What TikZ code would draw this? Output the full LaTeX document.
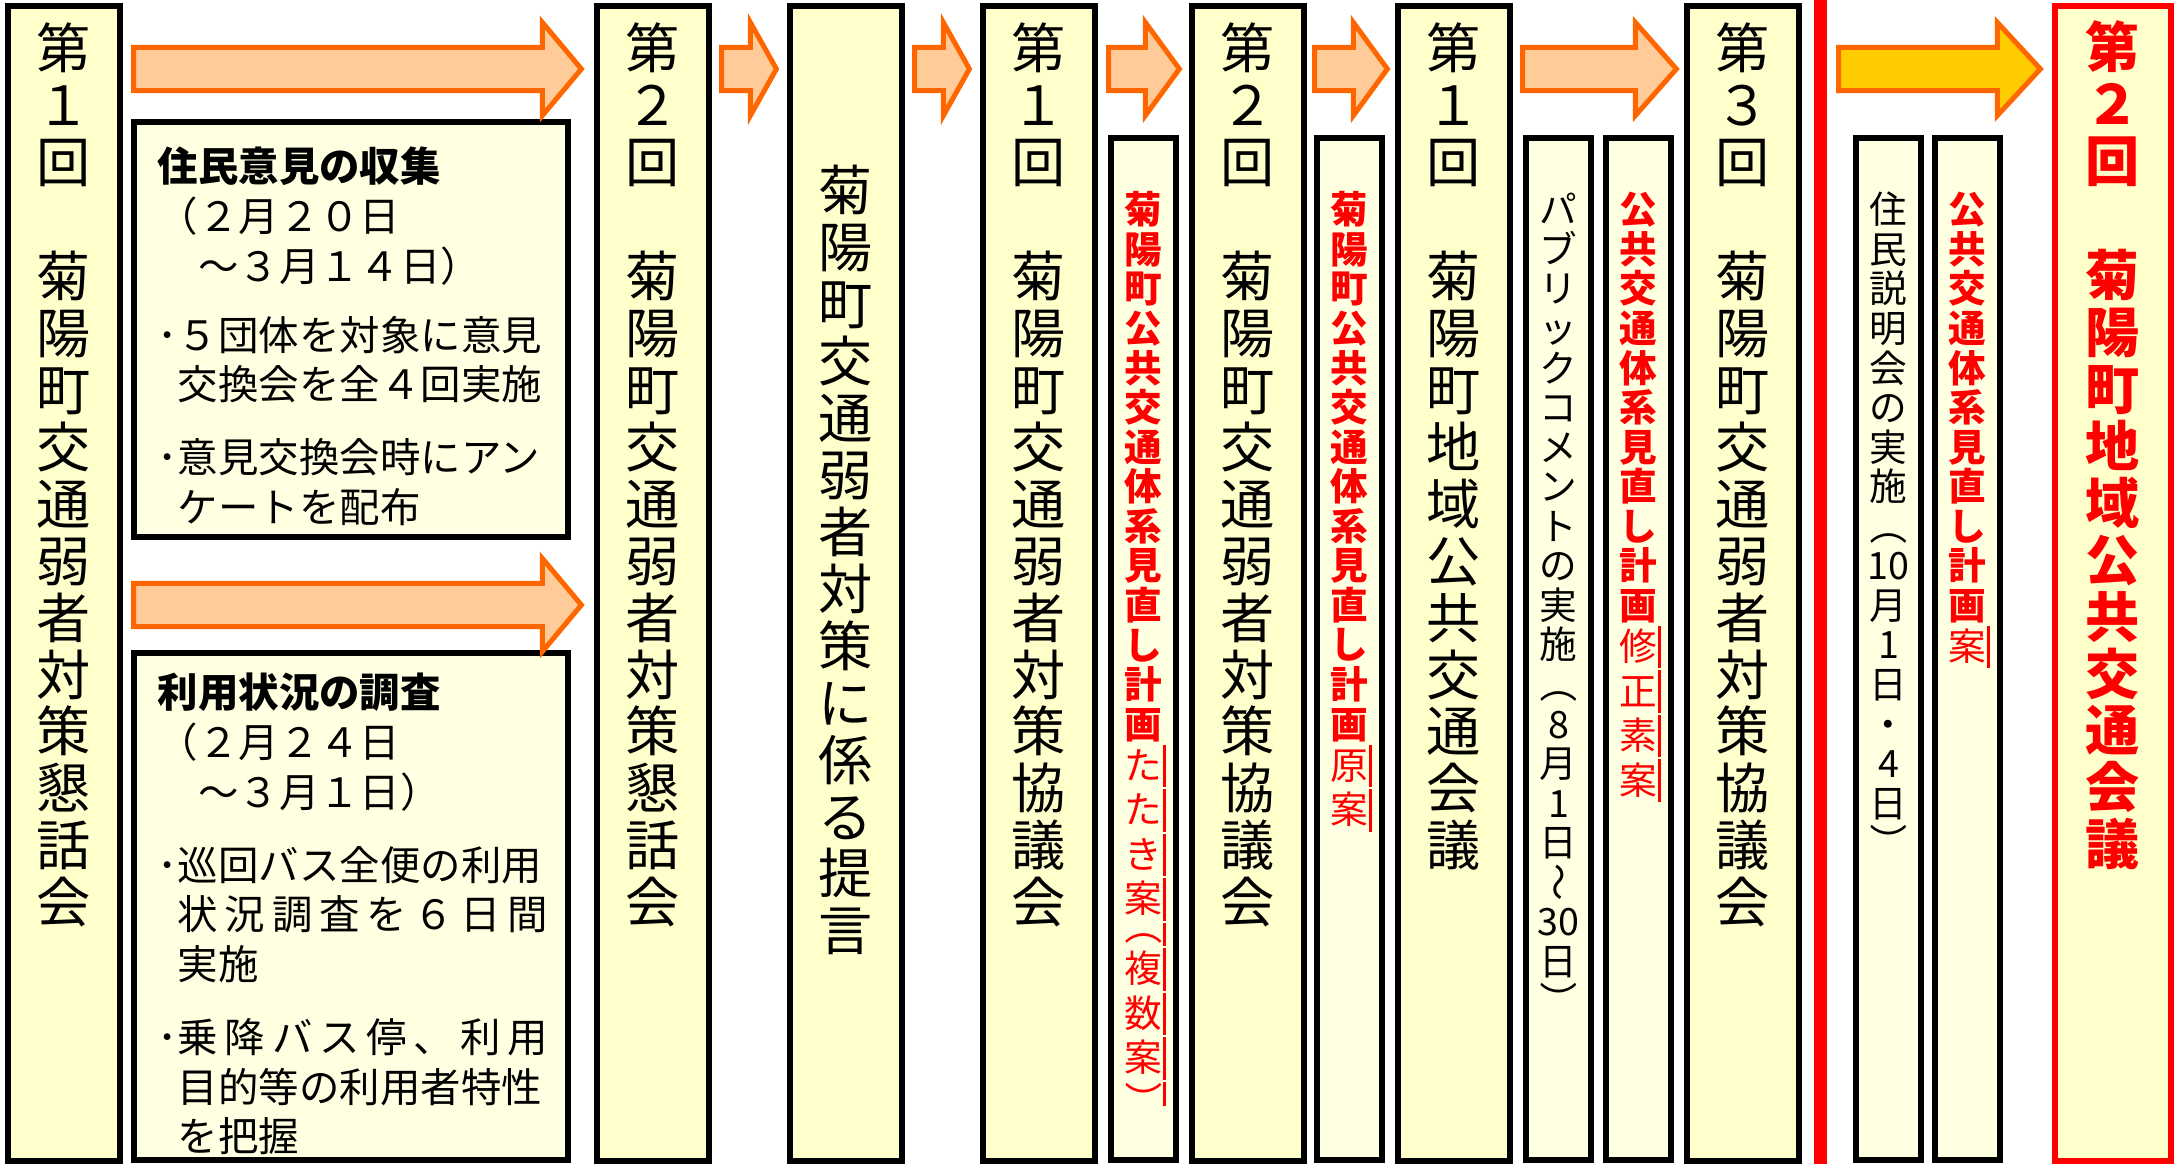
\documentclass[tikz,border=0pt]{standalone}
\usepackage{fontspec}
\setmainfont{Noto Sans CJK JP}
\usetikzlibrary{calc}

\definecolor{kaigifill}{HTML}{FFFFCC}
\definecolor{memofill}{HTML}{FFFFE2}
\definecolor{flowfill}{HTML}{FFCC99}
\definecolor{flowline}{HTML}{FF6600}
\definecolor{goldfill}{HTML}{FFCC00}
\definecolor{akared}{HTML}{FF0000}

% vertical writing: one character per cell
\ExplSyntaxOn
\dim_new:N \l_tate_gap_dim
\bool_new:N \l_tate_ul_bool
\cs_new_protected:Npn \tate_cell_aux:nnn #1#2#3
  {
    \hbox:n
      {
        \hbox_to_wd:nn { 1em }
          { \hss \vrule height #1 depth #2 width 0pt \scan_stop: #3 \hss }
        \bool_if:NT \l_tate_ul_bool
          {
            \rlap
              {
                \kern .03em
                \vrule width .6pt height \dim_eval:n { #1 + .04em }
                  depth \dim_eval:n { #2 + \l_tate_gap_dim + .04em } \scan_stop:
              }
          }
      }
  }
\cs_new_protected:Npn \tate_cell:n #1
  {
    \tl_if_head_eq_meaning:nNTF {#1} \vroth
      { \tate_cell_aux:nnn { .44em } { .06em } {#1} }
      { \tate_cell_aux:nnn { .88em } { .12em } {#1} }
    \skip_vertical:n { \l_tate_gap_dim }
  }
\NewDocumentCommand \tate { s m }
  {
    \IfBooleanTF {#1}
      { \bool_set_true:N \l_tate_ul_bool }
      { \bool_set_false:N \l_tate_ul_bool }
    \tl_map_inline:nn {#2} { \tate_cell:n {##1} }
  }
\NewDocumentCommand \tatebox { m m }
  {
    \vbox:n { \dim_set:Nn \l_tate_gap_dim {#1} \offinterlineskip #2 }
  }
\NewDocumentCommand \spread { m }
  {
    \hbox_to_wd:nn { \linewidth - .5em }
      { \tl_map_inline:nn {#1} { ##1 \hfil } \tex_unskip:D }
  }
\ExplSyntaxOff

\newcommand\vrot[1]{\raisebox{.88em}{\rotatebox{-90}{\makebox[1em]{\rule[-.12em]{0pt}{1em}#1}}}}
\newcommand\vroth[2]{\smash{\raisebox{#1}{\vrot{#2}}}}

\newcommand\flowarrow[4][flow]{%
  \draw[#1] let \p1=(#2), \p2=(#3) in
    (\x1,{\y1+0.215cm}) -- ({\x2-#4},{\y1+0.215cm}) -- ({\x2-#4},{\y1+0.465cm})
    -- (\x2,\y1) -- ({\x2-#4},{\y1-0.465cm}) -- ({\x2-#4},{\y1-0.215cm})
    -- (\x1,{\y1-0.215cm}) -- cycle;}

\tikzset{
  kaigi/.style={draw=black, line width=1.7pt, fill=kaigifill, minimum width=1.12cm,
    minimum height=11.54cm, anchor=north west, inner sep=0pt},
  kekka/.style={kaigi, draw=akared, minimum width=1.16cm},
  memo/.style={draw=black, line width=1.7pt, fill=memofill, minimum width=0.65cm,
    minimum height=10.21cm, anchor=north west, inner sep=0pt},
  naiyo/.style={memo, minimum width=4.34cm},
  tatemoji/.style={anchor=north, inner sep=0pt, font=\fontsize{15.4pt}{16pt}\selectfont},
  tatememo/.style={anchor=north, inner sep=0pt, font=\fontsize{10.7pt}{11pt}\selectfont},
  yokomoji/.style={anchor=base west, inner sep=0pt, text width=3.9cm,
    font=\fontsize{11.5pt}{14.1pt}\selectfont},
  flow/.style={draw=flowline, line width=1.42pt, fill=flowfill},
  goldflow/.style={flow, fill=goldfill},
}

\begin{document}
\begin{tikzpicture}[x=0.01cm,y=-0.01cm]
\useasboundingbox (0,0) rectangle (2177,1164);

% meetings
\node[kaigi] (kon1) at (5,3) {};
\node[kaigi] (kon2) at (594,3) {};
\node[kaigi] (teigen) at (787,3) {};
\node[kaigi] (kyo1) at (980,3) {};
\node[kaigi] (kyo2) at (1189,3) {};
\node[kaigi] (kokyo1) at (1395,3) {};
\node[kaigi] (kyo3) at (1684,3) {};
\node[kekka] (kokyo2) at (2052,3) {};

% notes
\node[naiyo, minimum height=4.15cm] (jumin) at (131,119) {};
\node[naiyo, minimum height=5.07cm] (riyo) at (131,650) {};
\node[memo] (tataki) at (1108,135) {};
\node[memo] (gen) at (1314,135) {};
\node[memo] (pub) at (1523,135) {};
\node[memo] (shusei) at (1603,135) {};
\node[memo] (setsumei) at (1853,135) {};
\node[memo] (an) at (1932,135) {};

\draw[akared, line width=0.13cm] (1820.5,0) -- (1820.5,1164);

% arrows
\flowarrow{$(kon1.north east)+(10.5,66)$}{$(kon2.north west)+(-12.6,66)$}{0.39cm}
\flowarrow{$(kon1.north east)+(10.5,602)$}{$(kon2.north west)+(-12.6,602)$}{0.39cm}
\flowarrow{$(kon2.north east)+(9.5,66)$}{$(teigen.north west)+(-10.6,66)$}{0.26cm}
\flowarrow{$(teigen.north east)+(9.5,66)$}{$(kyo1.north west)+(-10.6,66)$}{0.26cm}
\flowarrow{$(kyo1.north east)+(10.5,66)$}{$(kyo2.north west)+(-9.6,66)$}{0.34cm}
\flowarrow{$(kyo2.north east)+(7.5,66)$}{$(kokyo1.north west)+(-7.6,66)$}{0.34cm}
\flowarrow{$(kokyo1.north east)+(9.5,66)$}{$(kyo3.north west)+(-7.6,66)$}{0.41cm}
\flowarrow[goldflow]{$(kyo3.north east)+(36.5,66)$}{$(kokyo2.north west)+(-11.6,66)$}{0.43cm}

% texts
\node[tatemoji] (kon1t) at ($(kon1.north)+(0,17)$) {\tatebox{0.8pt}{\tate{第１回　菊陽町交通弱者対策懇話会}}};
\node[tatemoji] (kon2t) at ($(kon2.north)+(0,17)$) {\tatebox{0.8pt}{\tate{第２回　菊陽町交通弱者対策懇話会}}};
\node[tatemoji] (teigent) at ($(teigen.north)+(0,159)$) {\tatebox{0.8pt}{\tate{菊陽町交通弱者対策に係る提言}}};
\node[tatemoji] (kyo1t) at ($(kyo1.north)+(0,17)$) {\tatebox{0.8pt}{\tate{第１回　菊陽町交通弱者対策協議会}}};
\node[tatemoji] (kyo2t) at ($(kyo2.north)+(0,17)$) {\tatebox{0.8pt}{\tate{第２回　菊陽町交通弱者対策協議会}}};
\node[tatemoji] (kokyo1t) at ($(kokyo1.north)+(0,17)$) {\tatebox{0.8pt}{\tate{第１回　菊陽町地域公共交通会議}}};
\node[tatemoji] (kyo3t) at ($(kyo3.north)+(0,17)$) {\tatebox{0.8pt}{\tate{第３回　菊陽町交通弱者対策協議会}}};
\node[tatemoji, text=akared] (kokyo2t) at ($(kokyo2.north)+(0,16)$) {\tatebox{0.8pt}{{\bfseries\tate{第２回　菊陽町地域公共交通会議}}}};

\node[tatememo, text=akared] (tatakit) at ($(tataki.north)+(0,55)$) {\tatebox{0.55pt}{{\bfseries\tate{菊陽町公共交通体系見直し計画}}\tate*{たたき案{\vroth{0em}{（}}複数案{\vroth{-.4em}{）}}}}};
\node[tatememo, text=akared] (gent) at ($(gen.north)+(0,55)$) {\tatebox{0.55pt}{{\bfseries\tate{菊陽町公共交通体系見直し計画}}\tate*{原案}}};
\node[tatememo] (pubt) at ($(pub.north)+(0,55)$) {\tatebox{0.55pt}{\tate{パブリックコメントの実施{\vrot{（}}8月1日{\vrot{～}}{30}日{\vrot{）}}}}};
\node[tatememo, text=akared] (shuseit) at ($(shusei.north)+(0,55)$) {\tatebox{0.55pt}{{\bfseries\tate{公共交通体系見直し計画}}\tate*{修正素案}}};
\node[tatememo] (setsumeit) at ($(setsumei.north)+(0,55)$) {\tatebox{0.55pt}{\tate{住民説明会の実施{\vrot{（}}{10}月1日・4日{\vrot{）}}}}};
\node[tatememo, text=akared] (ant) at ($(an.north)+(0,55)$) {\tatebox{0.55pt}{{\bfseries\tate{公共交通体系見直し計画}}\tate*{案}}};

\node[yokomoji] (jumint) at ($(jumin.north west)+(26,63)$) {\textbf{住民意見の収集}\\（２月２０日\\\hspace*{1em}～３月１４日）\par\vspace{5.5pt}･５団体を対象に意見\\\hspace*{.5em}交換会を全４回実施\par\vspace{6.7pt}･意見交換会時にアン\\\hspace*{.5em}ケートを配布};
\node[yokomoji] (riyot) at ($(riyo.north west)+(26,58)$) {\textbf{利用状況の調査}\\（２月２４日\\\hspace*{1em}～３月１日）\par\vspace{6.7pt}･巡回バス全便の利用\\\hspace*{.5em}\spread{状況調査を６日間}\\\hspace*{.5em}実施\par\vspace{6.7pt}･\spread{乗降バス停、利用}\\\hspace*{.5em}目的等の利用者特性\\\hspace*{.5em}を把握};
\end{tikzpicture}
\end{document}
